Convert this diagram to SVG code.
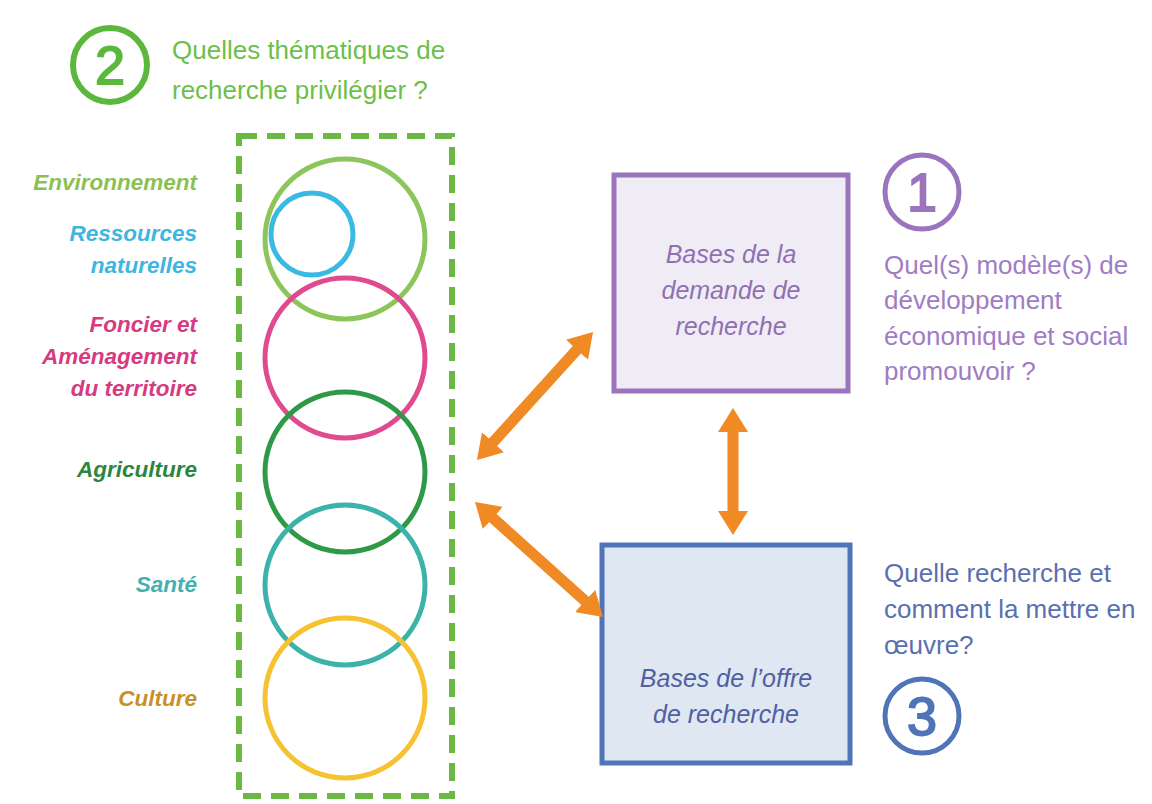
<svg xmlns="http://www.w3.org/2000/svg" width="1152" height="804" viewBox="0 0 1152 804">
  <style>
    .q { font-family: "Liberation Sans", Arial, sans-serif; font-size: 26px; }
    .lbl { font-family: "Liberation Sans", Arial, sans-serif; font-size: 22.5px; font-weight: bold; font-style: italic; text-anchor: end; }
    .box { font-family: "Liberation Sans", Arial, sans-serif; font-size: 25px; font-style: italic; text-anchor: middle; }
    .num { font-family: "Liberation Sans", Arial, sans-serif; font-size: 54px; text-anchor: middle; stroke-width: 1.8; }
    .ring { fill: none; stroke-width: 5; }
    .arrow { stroke: #f08a24; stroke-width: 11; fill: none; marker-start: url(#head); marker-end: url(#head); }
  </style>
  <defs>
    <marker id="head" markerUnits="userSpaceOnUse" markerWidth="26" markerHeight="30" viewBox="0 0 26 30" refX="4" refY="15" orient="auto-start-reverse">
      <path d="M0,0 L24,15 L0,30 z" fill="#f08a24"/>
    </marker>
  </defs>
  <rect width="1152" height="804" fill="#ffffff"/>

  <g id="question2">
    <circle cx="110" cy="65" r="37" fill="none" stroke="#5cb83c" stroke-width="6"/>
    <text class="num" x="110" y="84" fill="#5cb83c" stroke="#5cb83c">2</text>
    <text class="q" x="172" y="59" fill="#6cbf4a">Quelles thématiques de</text>
    <text class="q" x="172" y="99" fill="#6cbf4a">recherche privilégier ?</text>
  </g>

  <g id="themes">
    <rect x="239" y="136" width="213" height="660" fill="none" stroke="#6bb844" stroke-width="6" stroke-dasharray="18 10"/>
  </g>

  <g id="environnement">
    <circle class="ring" cx="345" cy="239" r="80" stroke="#8cc65a"/>
    <text class="lbl" x="197" y="190" fill="#8cc152">Environnement</text>
  </g>
  <g id="ressources">
    <circle class="ring" cx="312" cy="234" r="41" stroke="#3cb9e2"/>
    <text class="lbl" x="197" y="241" fill="#3db6e0">Ressources</text>
    <text class="lbl" x="197" y="273" fill="#3db6e0">naturelles</text>
  </g>
  <g id="foncier">
    <circle class="ring" cx="345" cy="358" r="80" stroke="#e04a8e"/>
    <text class="lbl" x="197" y="332" fill="#d63a80">Foncier et</text>
    <text class="lbl" x="197" y="364" fill="#d63a80">Aménagement</text>
    <text class="lbl" x="197" y="396" fill="#d63a80">du territoire</text>
  </g>
  <g id="agriculture">
    <circle class="ring" cx="345" cy="472" r="80" stroke="#2e9a48"/>
    <text class="lbl" x="197" y="477" fill="#2e8540">Agriculture</text>
  </g>
  <g id="sante">
    <circle class="ring" cx="345" cy="585" r="80" stroke="#3bb3aa"/>
    <text class="lbl" x="197" y="592" fill="#45b0b0">Santé</text>
  </g>
  <g id="culture">
    <circle class="ring" cx="345" cy="698" r="80" stroke="#f6c232"/>
    <text class="lbl" x="197" y="706" fill="#c8902a">Culture</text>
  </g>

  <g id="demande">
    <rect x="614" y="175" width="234" height="216" fill="#efecf6" stroke="#9a75bd" stroke-width="5"/>
    <text class="box" x="731" y="263" fill="#9070b0">Bases de la</text>
    <text class="box" x="731" y="299" fill="#9070b0">demande de</text>
    <text class="box" x="731" y="335" fill="#9070b0">recherche</text>
  </g>
  <g id="question1">
    <circle cx="922" cy="192" r="37" fill="none" stroke="#9a75bd" stroke-width="5"/>
    <text class="num" x="922" y="211" fill="#9a75bd" stroke="#9a75bd">1</text>
    <text class="q" x="884" y="274" fill="#a07cc5">Quel(s) modèle(s) de</text>
    <text class="q" x="884" y="309" fill="#a07cc5">développement</text>
    <text class="q" x="884" y="345" fill="#a07cc5">économique et social</text>
    <text class="q" x="884" y="380" fill="#a07cc5">promouvoir ?</text>
  </g>

  <g id="offre">
    <rect x="602" y="545" width="248" height="218" fill="#dfe7f3" stroke="#4f74b8" stroke-width="5"/>
    <text class="box" x="726" y="687" fill="#5060a0">Bases de l’offre</text>
    <text class="box" x="726" y="723" fill="#5060a0">de recherche</text>
  </g>
  <g id="question3">
    <text class="q" x="884" y="582" fill="#5a70b0">Quelle recherche et</text>
    <text class="q" x="884" y="618" fill="#5a70b0">comment la mettre en</text>
    <text class="q" x="884" y="654" fill="#5a70b0">œuvre?</text>
    <circle cx="922" cy="716" r="37" fill="none" stroke="#4f74b8" stroke-width="5"/>
    <text class="num" x="922" y="735" fill="#4f74b8" stroke="#4f74b8">3</text>
  </g>

  <g id="connectors">
    <line class="arrow" x1="490.4" y1="445.2" x2="579.6" y2="346.8"/>
    <line class="arrow" x1="489.9" y1="515.4" x2="588.1" y2="603.6"/>
    <line class="arrow" x1="733" y1="428" x2="733" y2="515"/>
  </g>
</svg>
